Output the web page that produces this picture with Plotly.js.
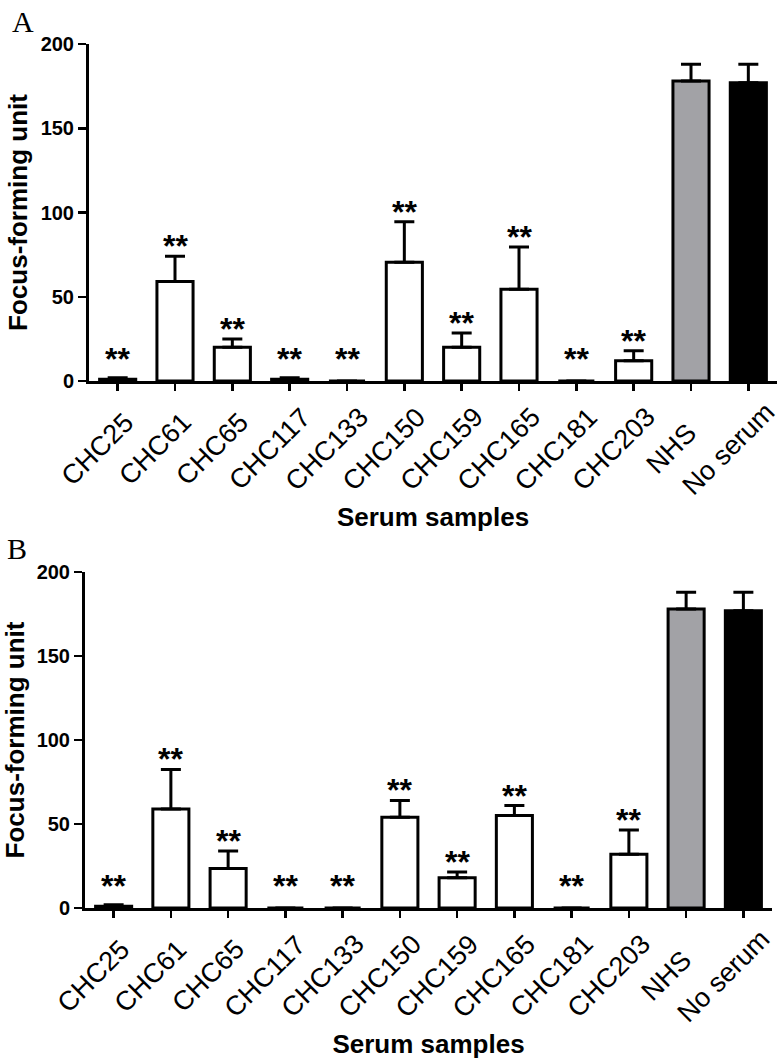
<!DOCTYPE html>
<html>
<head>
<meta charset="utf-8">
<script src="https://cdn.plot.ly/plotly-3.0.1.min.js"></script>
<style>html,body{margin:0;padding:0;background:#fff;}#chart{width:784px;height:1064px;}</style>
</head>
<body>
<div id="chart"></div>
<script>
// ---- data ----
const categories = ['CHC25','CHC61','CHC65','CHC117','CHC133','CHC150','CHC159','CHC165','CHC181','CHC203','NHS','No serum'];
const valuesA = [1, 59, 20, 1, 0, 70.5, 20, 54.5, 0, 12, 178, 177];
const errorsA = [1, 15, 5, 1, 0, 24, 8.5, 25, 0, 6, 10, 11];
const valuesB = [1, 59, 23.5, 0, 0, 54, 18, 55, 0, 32, 178, 177];
const errorsB = [1, 23.5, 10.5, 0, 0, 10, 3.5, 6, 0, 14.5, 10, 11];
const starLabelsA = ['**','**','**','**','**','**','**','**','**','**','',''];
const starLabelsB = ['**','**','**','**','**','**','**','**','**','**','',''];
const barFills = ['#ffffff','#ffffff','#ffffff','#ffffff','#ffffff','#ffffff','#ffffff','#ffffff','#ffffff','#ffffff','#a2a2a6','#000000'];
const yTicks = [0, 50, 100, 150, 200];
const panelLetters = ['A', 'B'];
const xTitle = 'Serum samples';
const yTitle = 'Focus-forming unit';

const SANS = '"Liberation Sans", Arial, sans-serif';

function barTrace(vals, errs, xa, ya) {
  return {
    type: 'bar', x: categories, y: vals, xaxis: xa, yaxis: ya,
    marker: {color: barFills, line: {color: '#000', width: 3}},
    error_y: {type: 'data', symmetric: false, array: errs, arrayminus: errs.map(() => 0),
              color: '#000', thickness: 3, width: 10, visible: true},
    showlegend: false, hoverinfo: 'skip'
  };
}

function starAnnotations(vals, errs, labels, xa, ya) {
  const out = [];
  categories.forEach((c, i) => {
    if (!labels[i]) return;
    out.push({
      x: c, y: Math.max(vals[i] + errs[i], 7), xref: xa, yref: ya,
      text: '<b>' + labels[i] + '</b>', showarrow: false, yanchor: 'bottom', yshift: -10,
      font: {family: SANS, size: 32, color: '#000'}
    });
  });
  return out;
}

// category labels, rotated 45 degrees and centred (as in the original)
function categoryLabels(xa, ya) {
  return categories.map(c => ({
    x: c, y: 0, xref: xa, yref: ya, text: c, textangle: -45,
    showarrow: false, xanchor: 'center', yanchor: 'middle', xshift: -20, yshift: -68,
    font: {family: SANS, size: 27, color: '#000'}
  }));
}

function xAxis(domain, anchor) {
  return {
    domain: domain, anchor: anchor, type: 'category', range: [-0.5, 11.5],
    showline: true, linecolor: '#000', linewidth: 3, mirror: false,
    ticks: 'outside', ticklen: 7, tickwidth: 2.5, tickcolor: '#000',
    showticklabels: false,
    showgrid: false, zeroline: false, automargin: false, fixedrange: true,
    title: {text: '<b>' + xTitle + '</b>', font: {family: SANS, size: 26, color: '#000'}, standoff: 118}
  };
}
function yAxis(domain, anchor) {
  return {
    domain: domain, anchor: anchor, range: [0, 200], tickvals: yTicks,
    ticktext: yTicks.map(t => '<b>' + t + '</b>'),
    showline: true, linecolor: '#000', linewidth: 3,
    ticks: 'outside', ticklen: 8, tickwidth: 2.5, tickcolor: '#000',
    tickfont: {family: SANS, size: 20, color: '#000'},
    showgrid: false, zeroline: false, automargin: false, fixedrange: true,
    title: {text: '<b>' + yTitle + '</b>', font: {family: SANS, size: 26, color: '#000'}, standoff: 6}
  };
}

const H = 1064, W = 784;
const data = [barTrace(valuesA, errorsA, 'x', 'y'), barTrace(valuesB, errorsB, 'x2', 'y2')];
const layout = {
  width: W, height: H, margin: {l: 0, r: 0, t: 0, b: 0},
  paper_bgcolor: '#fff', plot_bgcolor: '#fff',
  bargap: 0.37, showlegend: false,
  xaxis: xAxis([89 / W, 777 / W], 'y'),
  yaxis: yAxis([(H - 381) / H, (H - 44) / H], 'x'),
  xaxis2: xAxis([85 / W, 772 / W], 'y2'),
  yaxis2: yAxis([(H - 908) / H, (H - 572) / H], 'x2'),
  annotations: [
    ...starAnnotations(valuesA, errorsA, starLabelsA, 'x', 'y'),
    ...starAnnotations(valuesB, errorsB, starLabelsB, 'x2', 'y2'),
    ...categoryLabels('x', 'y'),
    ...categoryLabels('x2', 'y2'),
    {text: panelLetters[0], xref: 'paper', yref: 'paper', x: 10 / W, y: 1 - 3 / H, xanchor: 'left', yanchor: 'top',
     showarrow: false, font: {family: '"Liberation Serif", "Times New Roman", serif', size: 30, color: '#000'}},
    {text: panelLetters[1], xref: 'paper', yref: 'paper', x: 5 / W, y: 1 - 530 / H, xanchor: 'left', yanchor: 'top',
     showarrow: false, font: {family: '"Liberation Serif", "Times New Roman", serif', size: 30, color: '#000'}}
  ]
};
Plotly.newPlot('chart', data, layout, {displayModeBar: false, staticPlot: true});
</script>
</body>
</html>
